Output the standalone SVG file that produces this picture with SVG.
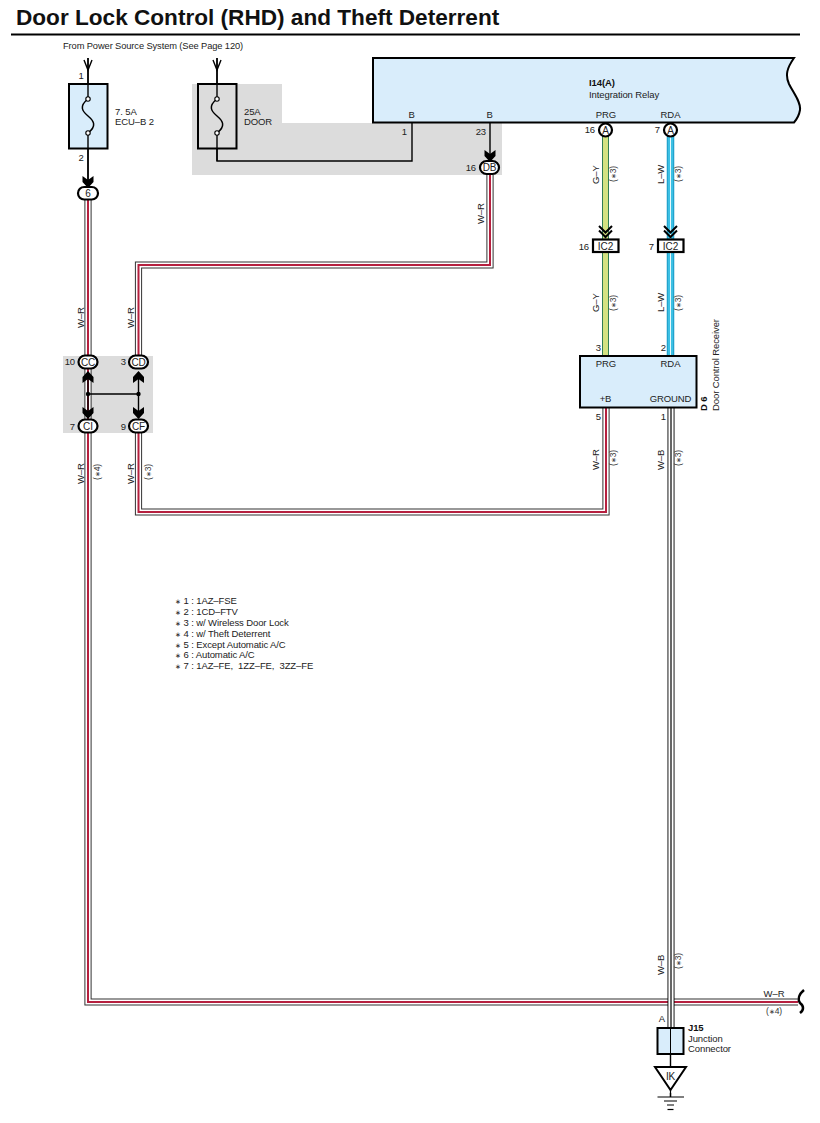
<svg xmlns="http://www.w3.org/2000/svg" width="820" height="1123" viewBox="0 0 820 1123">
<style>
text{font-family:"Liberation Sans",Arial,sans-serif;font-size:9.5px;fill:#222;letter-spacing:-.1px}
.m{text-anchor:middle}.e{text-anchor:end}
.b{font-weight:bold;fill:#111}
.s{font-size:8.500px;fill:#333}
.a{font-size:6.500px}
.pt{font-size:10px}
.ln{fill:none;stroke:#000;stroke-width:1.4}
.box{stroke:#000;stroke-width:2;fill:#d9edfb}
.pin{fill:#fff;stroke:#000;stroke-width:2.200}
.w1{fill:none;stroke:#333;stroke-width:7.200}
.wb{fill:none;stroke:#000;stroke-width:7}
.wg{fill:none;stroke:#2f7d55;stroke-width:7}
.wl{fill:none;stroke:#1a9ac6;stroke-width:7.500}
.w2{fill:none;stroke:#fff;stroke-width:5.200}
.wy{fill:none;stroke:#d3e282;stroke-width:5}
.wc{fill:none;stroke:#3cc0e4;stroke-width:5.500}
.r{fill:none;stroke:#b5203f;stroke-width:2}
</style>
<defs>
<g id="ah"><path d="M-5.500 -7 L0 -3 L5.500 -7 L5.500 -1 L0 5 L-5.500 -1Z" fill="#000"/></g>
<g id="dh"><path d="M-6.500 -8 L0 -1.500 L6.500 -8 M-6.500 -3.500 L0 3 L6.500 -3.500" fill="none" stroke="#000" stroke-width="2"/></g>
</defs>
<rect width="820" height="1123" fill="#fff"/>
<g id="title"><text x="16" y="25" class="b" style="font-size:22.600px;letter-spacing:0">Door Lock Control (RHD) and Theft Deterrent</text><path d="M11 34.500H800" stroke="#000" stroke-width="2.200"/></g>
<text x="63" y="49" style="font-size:9.300px">From Power Source System (See Page 120)</text>
<path id="shade-top" d="M192 84H282V123H502V175H192Z" fill="#dcdcdc"/>
<rect id="shade-mid" x="63" y="356" width="90" height="77" fill="#dcdcdc"/>

<g id="connectors">
<path id="w-left" class="w1" d="M88 200V1002H798"/><path class="w2" d="M88 200V1002H798"/><path class="r" d="M88 200V1002H798"/>
<path id="w-db" class="w1" d="M490 175V265H138.500V355"/><path class="w2" d="M490 175V265H138.500V355"/><path class="r" d="M490 175V265H138.500V355"/>
<path id="w-cf" class="w1" d="M138.500 432V512H606V408"/><path class="w2" d="M138.500 432V512H606V408"/><path class="r" d="M138.500 432V512H606V408"/>
<path id="w-gy" class="wg" d="M605.500 135V240M605.500 252V355"/><path class="wy" d="M605.500 135V240M605.500 252V355"/>
<path id="w-lw" class="wl" d="M670.500 135V240M670.500 252V355"/><path class="wc" d="M670.500 135V240M670.500 252V355"/><path d="M670.500 135V240M670.500 252V355" stroke="#e8f8fc" stroke-width="1" fill="none"/>
<path id="w-wb" class="wb" d="M671 408V1031"/><path class="w2" d="M671 408V1031"/><path d="M671 408V1031" stroke="#000" stroke-width="1.200" fill="none"/>
<path class="ln" d="M88 58V186M217 58V161H412V123M490 123V160M88 374V418M138.500 374V418M88 394H138.500M670.500 1054V1067M670.500 1093V1097"/>
<path class="ln" d="M84 60L88 70L92 60M213 60L217 70L221 60"/>
<circle cx="88" cy="394" r="2.200" fill="#000"/><circle cx="138.500" cy="394" r="2.200" fill="#000"/>
<use href="#ah" x="88" y="183"/><use href="#ah" x="490" y="157"/>
<use href="#ah" transform="translate(88 376) scale(1 -1)"/><use href="#ah" transform="translate(138.500 376) scale(1 -1)"/>
<use href="#ah" x="88" y="414"/><use href="#ah" x="138.500" y="414"/>
<use href="#dh" x="605.500" y="234"/><use href="#dh" x="670.500" y="234"/>
</g>

<g id="fuse-ecu">
<rect class="box" x="69" y="84" width="38.500" height="64.500"/>
<path class="ln" d="M88 58V99M88 133V186"/>
<path d="M88 99C79 106 82 111 88 116C94 121 97 126 88 133" fill="none" stroke="#000" stroke-width="1.500"/>
<circle cx="88" cy="99" r="2.200" fill="#fff" stroke="#000" stroke-width="1.100"/><circle cx="88" cy="133" r="2.200" fill="#fff" stroke="#000" stroke-width="1.100"/>
<text x="81" y="79" class="m">1</text><text x="81" y="161" class="m">2</text>
<text x="115" y="115">7. 5A</text><text x="115" y="125">ECU–B 2</text>
</g>
<g id="fuse-door">
<rect x="198" y="84" width="38.500" height="64.500" fill="#dcdcdc" stroke="#000" stroke-width="2"/>
<path d="M217 58V99M217 133V161" class="ln"/>
<path d="M217 99C208 106 211 111 217 116C223 121 226 126 217 133" fill="none" stroke="#000" stroke-width="1.500"/>
<circle cx="217" cy="99" r="2.200" fill="#fff" stroke="#000" stroke-width="1.100"/><circle cx="217" cy="133" r="2.200" fill="#fff" stroke="#000" stroke-width="1.100"/>
<text x="244" y="115">25A</text><text x="244" y="125">DOOR</text>
</g>
<g id="relay">
<path class="box" d="M373 58H794C787 68 785 75 789 84C794 94 801 102 800 110C799 116 797 119 794 122.500H373Z"/>
<text x="589" y="86" class="b">I14(A)</text><text x="589" y="98">Integration Relay</text>
<text x="411.500" y="118" class="m">B</text><text x="489.500" y="118" class="m">B</text><text x="606" y="118" class="m">PRG</text><text x="670.500" y="118" class="m">RDA</text>
<text x="407" y="135" class="e">1</text><text x="486" y="135" class="e">23</text>
</g>
<g id="pin-A1"><circle class="pin" cx="605.500" cy="130" r="6.500"/><text x="605.500" y="133.500" class="m pt">A</text><text x="595" y="133" class="e">16</text></g>
<g id="pin-A2"><circle class="pin" cx="670.500" cy="130" r="6.500"/><text x="670.500" y="133.500" class="m pt">A</text><text x="660" y="133" class="e">7</text></g>
<g id="pin-DB"><rect class="pin" x="480" y="161" width="19" height="13" rx="6.500"/><text x="489.500" y="171" class="m pt">DB</text><text x="476" y="171" class="e">16</text></g>
<g id="pin-6"><rect class="pin" x="78" y="187" width="20" height="12.500" rx="6.200"/><text x="88" y="197" class="m pt">6</text></g>
<g id="pin-CC"><rect class="pin" x="78.500" y="355.500" width="19" height="13" rx="6.500"/><text x="88" y="365.500" class="m pt">CC</text><text x="75" y="365" class="e">10</text></g>
<g id="pin-CD"><rect class="pin" x="129" y="355.500" width="19" height="13" rx="6.500"/><text x="138.500" y="365.500" class="m pt">CD</text><text x="126" y="365" class="e">3</text></g>
<g id="pin-CI"><rect class="pin" x="78.500" y="419.500" width="19" height="13" rx="6.500"/><text x="88" y="429.500" class="m pt">CI</text><text x="75" y="429.500" class="e">7</text></g>
<g id="pin-CF"><rect class="pin" x="129" y="419.500" width="19" height="13" rx="6.500"/><text x="138.500" y="429.500" class="m pt">CF</text><text x="126" y="429.500" class="e">9</text></g>
<g id="pin-IC2a"><rect class="pin" x="593" y="239.500" width="25.500" height="12.500"/><text x="605.500" y="249.500" class="m pt">IC2</text><text x="589" y="249.500" class="e">16</text></g>
<g id="pin-IC2b"><rect class="pin" x="658" y="239.500" width="25.500" height="12.500"/><text x="670.500" y="249.500" class="m pt">IC2</text><text x="654" y="249.500" class="e">7</text></g>
<g id="d6">
<rect class="box" x="580" y="356" width="116.500" height="51.500"/>
<text x="606" y="367" class="m">PRG</text><text x="670.500" y="367" class="m">RDA</text><text x="605.500" y="401.500" class="m">+B</text><text x="670.500" y="401.500" class="m">GROUND</text>
<text x="601" y="351" class="e">3</text><text x="666" y="351" class="e">2</text><text x="601" y="420" class="e">5</text><text x="666" y="420" class="e">1</text>
<text transform="translate(707 411) rotate(-90)" class="b">D 6</text>
<text transform="translate(719 411) rotate(-90)">Door Control Receiver</text>
</g>
<g id="j15">
<rect class="box" x="657.500" y="1028" width="26" height="26"/>
<path d="M670.500 1028V1054" stroke="#000" stroke-width="1"/>
<text x="665" y="1022" class="e">A</text>
<text x="688" y="1031" class="b">J15</text><text x="688" y="1042">Junction</text><text x="688" y="1051.500">Connector</text>
</g>
<g id="ground-ik">
<path d="M655 1067H686L670.500 1090Z" fill="#fff" stroke="#000" stroke-width="2"/>
<text x="670.500" y="1079.500" class="m pt">IK</text>
<path d="M670.500 1090V1097M657.500 1097H684M664 1101H677M667 1105H674" stroke="#000" stroke-width="1.200"/>
<path d="M667.500 1109.500H673.500" stroke="#000" stroke-width="1.200"/>
</g>
<path id="cut" d="M804 990C798 995 798 1000 800 1003C804 1006 804 1010 800 1013" fill="none" stroke="#000" stroke-width="2.500"/>
<g id="labels">
<text transform="translate(84 328) rotate(-90)">W–R</text>
<text transform="translate(134 328) rotate(-90)">W–R</text>
<text transform="translate(484 224) rotate(-90)">W–R</text>
<text transform="translate(84 484) rotate(-90)">W–R</text>
<text transform="translate(134 484) rotate(-90)">W–R</text>
<text transform="translate(100 480) rotate(-90)" class="s">(<tspan class="a">∗</tspan>4)</text>
<text transform="translate(151 480) rotate(-90)" class="s">(<tspan class="a">∗</tspan>3)</text>
<text transform="translate(599 184) rotate(-90)">G–Y</text><text transform="translate(616 182) rotate(-90)" class="s">(<tspan class="a">∗</tspan>3)</text>
<text transform="translate(664 184) rotate(-90)">L–W</text><text transform="translate(681 182) rotate(-90)" class="s">(<tspan class="a">∗</tspan>3)</text>
<text transform="translate(599 312) rotate(-90)">G–Y</text><text transform="translate(616 311) rotate(-90)" class="s">(<tspan class="a">∗</tspan>3)</text>
<text transform="translate(664 312) rotate(-90)">L–W</text><text transform="translate(681 311) rotate(-90)" class="s">(<tspan class="a">∗</tspan>3)</text>
<text transform="translate(599 470) rotate(-90)">W–R</text><text transform="translate(616 466) rotate(-90)" class="s">(<tspan class="a">∗</tspan>3)</text>
<text transform="translate(664 470) rotate(-90)">W–B</text><text transform="translate(681 466) rotate(-90)" class="s">(<tspan class="a">∗</tspan>3)</text>
<text transform="translate(664 975) rotate(-90)">W–B</text><text transform="translate(681 969) rotate(-90)" class="s">(<tspan class="a">∗</tspan>3)</text>
<text x="774" y="997" class="m">W–R</text><text x="774" y="1014" class="m s">(<tspan class="a">∗</tspan>4)</text>
</g>
<g id="notes">
<text x="175" y="604"><tspan class="a">∗</tspan> 1 : 1AZ–FSE</text>
<text x="175" y="615"><tspan class="a">∗</tspan> 2 : 1CD–FTV</text>
<text x="175" y="626"><tspan class="a">∗</tspan> 3 : w/ Wireless Door Lock</text>
<text x="175" y="636.500"><tspan class="a">∗</tspan> 4 : w/ Theft Deterrent</text>
<text x="175" y="647.500"><tspan class="a">∗</tspan> 5 : Except Automatic A/C</text>
<text x="175" y="658"><tspan class="a">∗</tspan> 6 : Automatic A/C</text>
<text x="175" y="669" xml:space="preserve"><tspan class="a">∗</tspan> 7 : 1AZ–FE,  1ZZ–FE,  3ZZ–FE</text>
</g>
</svg>
